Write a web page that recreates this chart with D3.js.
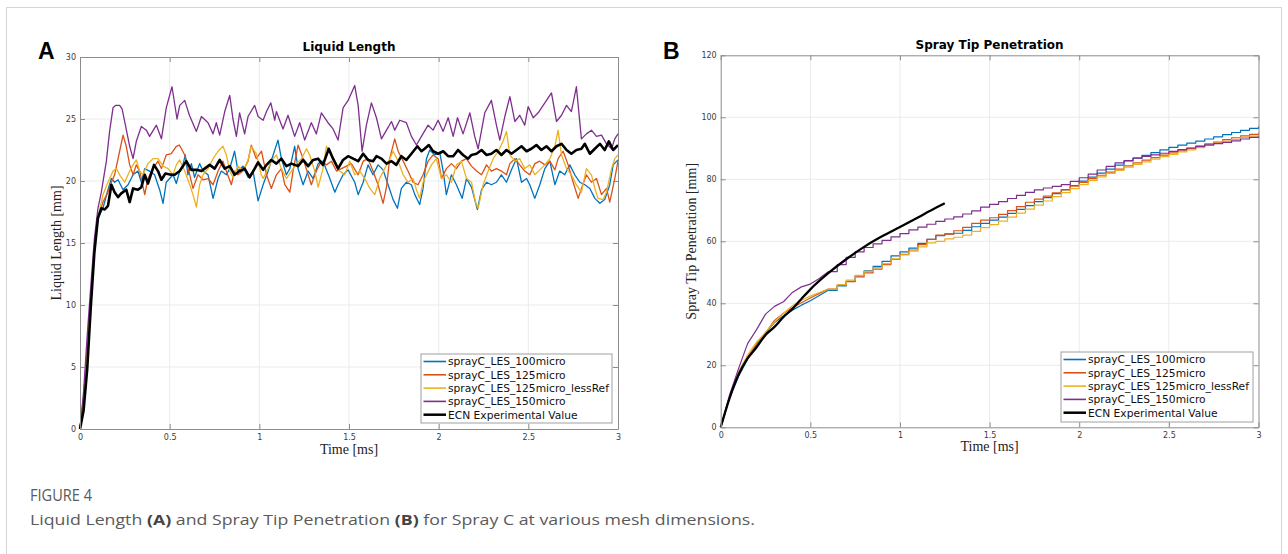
<!DOCTYPE html>
<html>
<head>
<meta charset="utf-8">
<script src="https://cdn.jsdelivr.net/npm/d3@7"></script>
<style>
  body { margin: 0; background: #fff; }
</style>
</head>
<body>
<div id="fig"></div>
<script>
    // legend labels + matlab colour order
    var seriesNames = ["sprayC_LES_100micro", "sprayC_LES_125micro", "sprayC_LES_125micro_lessRef", "sprayC_LES_150micro", "ECN Experimental Value"];
    var seriesColors = ["#0072BD", "#D95319", "#EDB120", "#7E2F8E", "#000000"];

    var timeTicks = [0, 0.5, 1, 1.5, 2, 2.5, 3];
    var lengthTicks = [0, 5, 10, 15, 20, 25, 30];
    var penTicks = [0, 20, 40, 60, 80, 100, 120];

    // ---- panel A : liquid length [mm] vs time [ms], pairs [t, v]
    var ll100 = [[0,0],[0.02,2.5],[0.04,6.5],[0.06,10.5],[0.08,14.5],[0.1,17],[0.128,17.8],[0.156,19.3],[0.175,20.2],[0.193,19.9],[0.212,20.1],[0.24,19.3],[0.268,19.7],[0.296,20.5],[0.323,20.8],[0.342,19.9],[0.361,21.0],[0.388,20.8],[0.416,20.5],[0.444,19.3],[0.463,18.2],[0.481,19.9],[0.5,20.2],[0.519,20.5],[0.537,19.8],[0.556,20.8],[0.574,21.3],[0.587,22.1],[0.602,20.5],[0.621,21.4],[0.639,20.3],[0.667,21.4],[0.686,20.8],[0.714,20.5],[0.742,18.6],[0.77,20.2],[0.788,20.8],[0.816,20.5],[0.835,21.0],[0.862,22.4],[0.881,20.8],[0.909,21.2],[0.937,20.3],[0.965,20.8],[0.993,18.4],[1.021,19.7],[1.049,20.8],[1.077,22.1],[1.104,23.3],[1.123,21.8],[1.151,20.5],[1.17,21.0],[1.197,22.8],[1.216,21.0],[1.244,19.7],[1.272,20.8],[1.3,20.2],[1.328,21.4],[1.355,21.6],[1.393,20.2],[1.421,19.1],[1.439,19.7],[1.467,20.5],[1.495,20.9],[1.532,19.9],[1.551,18.9],[1.579,19.9],[1.606,21.3],[1.634,20.5],[1.662,21.3],[1.69,20.9],[1.718,19.7],[1.746,18.5],[1.77,17.8],[1.792,19.4],[1.82,19.9],[1.848,19.7],[1.867,18.9],[1.894,18.1],[1.913,19.4],[1.932,21.8],[1.95,22.5],[1.978,22.1],[2.006,22.3],[2.025,20.8],[2.043,18.9],[2.071,20.5],[2.099,19.7],[2.131,18.6],[2.155,20.2],[2.183,19.5],[2.216,17.7],[2.239,19.3],[2.267,19.9],[2.294,19.7],[2.322,19.9],[2.35,20.5],[2.378,19.9],[2.406,20.9],[2.434,21.8],[2.462,19.9],[2.49,20.2],[2.508,19.7],[2.536,18.6],[2.564,19.7],[2.592,21.0],[2.62,21.6],[2.648,19.7],[2.675,20.8],[2.703,20.5],[2.731,21.3],[2.759,20.5],[2.787,19.9],[2.815,19.7],[2.843,19.4],[2.871,18.6],[2.899,18.2],[2.926,18.5],[2.954,19.7],[2.973,21.3],[3.0,21.7]];
    var ll125 = [[0,0],[0.02,2.5],[0.04,6.5],[0.06,10.5],[0.08,14.5],[0.1,17],[0.128,18.3],[0.156,19.1],[0.175,19.9],[0.193,20.5],[0.221,22.4],[0.24,23.7],[0.258,22.8],[0.277,21.3],[0.296,20.5],[0.314,21.3],[0.333,20.8],[0.361,18.9],[0.379,20.2],[0.407,21.0],[0.435,21.6],[0.454,21.0],[0.481,22.1],[0.509,22.2],[0.537,22.8],[0.554,22.9],[0.584,22.1],[0.612,20.5],[0.63,19.4],[0.658,20.5],[0.686,20.1],[0.714,20.2],[0.742,19.7],[0.77,20.8],[0.797,21.6],[0.816,20.8],[0.844,19.7],[0.862,20.8],[0.881,20.5],[0.909,20.8],[0.937,21.6],[0.955,22.9],[0.983,21.8],[1.012,22.4],[1.04,20.5],[1.067,19.4],[1.095,20.5],[1.123,21.0],[1.142,19.7],[1.17,19.1],[1.188,20.8],[1.216,22.9],[1.244,21.8],[1.272,20.5],[1.29,19.7],[1.318,20.8],[1.346,21.6],[1.374,21.3],[1.402,21.6],[1.43,20.8],[1.458,21.0],[1.486,21.2],[1.513,21.4],[1.551,20.5],[1.579,21.6],[1.606,21.8],[1.634,20.8],[1.662,19.7],[1.69,18.2],[1.709,19.5],[1.727,21.8],[1.755,23.4],[1.774,22.4],[1.802,21.6],[1.829,20.8],[1.857,19.9],[1.885,19.7],[1.913,20.5],[1.941,21.6],[1.969,22.1],[1.997,21.8],[2.016,20.2],[2.043,21.0],[2.071,21.4],[2.099,21.0],[2.127,21.6],[2.155,21.8],[2.183,21.2],[2.211,20.8],[2.239,20.5],[2.267,21.3],[2.294,20.8],[2.322,21.0],[2.35,20.8],[2.378,20.5],[2.397,21.4],[2.425,21.8],[2.452,21.3],[2.48,20.8],[2.508,20.5],[2.536,21.4],[2.564,21.6],[2.592,21.3],[2.62,21.6],[2.648,20.9],[2.666,21.8],[2.694,22.4],[2.722,21.3],[2.75,19.9],[2.778,18.6],[2.796,19.4],[2.824,20.5],[2.852,19.9],[2.88,20.2],[2.908,18.9],[2.936,19.4],[2.954,18.3],[2.982,20.2],[3.0,21.6]];
    var ll125less = [[0,0],[0.02,2.5],[0.04,6.5],[0.06,10.5],[0.08,14.5],[0.1,17],[0.128,18.9],[0.156,19.9],[0.184,20.8],[0.203,21.0],[0.221,20.5],[0.249,19.9],[0.277,20.8],[0.296,21.3],[0.314,21.7],[0.333,20.8],[0.351,20.5],[0.379,21.4],[0.407,21.8],[0.435,21.8],[0.463,21.2],[0.491,21.0],[0.519,20.5],[0.537,21.3],[0.556,21.7],[0.584,20.8],[0.612,19.7],[0.63,18.9],[0.649,17.9],[0.667,19.7],[0.686,20.5],[0.714,21.0],[0.742,21.8],[0.77,22.4],[0.797,22.8],[0.816,22.1],[0.835,20.8],[0.853,20.3],[0.881,21.2],[0.909,20.8],[0.937,21.7],[0.955,22.8],[0.983,22.2],[1.011,20.5],[1.021,20.2],[1.049,21.0],[1.067,21.6],[1.095,22.1],[1.123,21.0],[1.151,20.2],[1.179,20.8],[1.207,21.4],[1.235,21.8],[1.263,22.6],[1.281,22.1],[1.309,20.8],[1.328,19.5],[1.355,21.0],[1.374,22.8],[1.393,22.4],[1.421,21.6],[1.448,20.8],[1.476,20.5],[1.504,21.6],[1.532,20.5],[1.56,20.8],[1.588,20.2],[1.616,19.4],[1.644,18.9],[1.671,20.2],[1.699,21.0],[1.727,21.8],[1.746,22.4],[1.774,21.6],[1.802,20.5],[1.829,19.9],[1.857,20.2],[1.876,19.3],[1.894,18.6],[1.913,19.9],[1.932,20.5],[1.96,21.3],[1.987,21.8],[2.016,20.2],[2.043,20.5],[2.071,19.9],[2.099,21.3],[2.127,21.6],[2.155,20.2],[2.183,19.9],[2.205,18.3],[2.22,17.8],[2.248,19.7],[2.276,20.8],[2.304,21.8],[2.332,22.4],[2.359,23.2],[2.378,24.0],[2.397,22.1],[2.425,21.6],[2.452,21.8],[2.48,21.0],[2.508,21.3],[2.536,20.5],[2.564,20.9],[2.592,21.3],[2.62,21.8],[2.648,22.8],[2.666,24.1],[2.685,22.1],[2.713,21.0],[2.74,20.5],[2.768,19.7],[2.796,19.1],[2.824,21.0],[2.852,20.5],[2.871,19.4],[2.889,18.6],[2.917,18.5],[2.936,19.1],[2.964,21.0],[2.982,21.8],[3.0,22.1]];
    var ll150 = [[0,0],[0.02,3],[0.04,7.5],[0.06,11.5],[0.08,15.3],[0.1,17.8],[0.119,19.1],[0.147,21.6],[0.165,24.0],[0.184,25.9],[0.2,26.1],[0.221,26.1],[0.235,25.8],[0.249,24.8],[0.277,22.8],[0.296,21.8],[0.314,23.2],[0.342,24.4],[0.37,24.1],[0.388,23.6],[0.426,24.5],[0.454,23.4],[0.481,25.9],[0.513,27.6],[0.541,25.0],[0.556,26.1],[0.584,26.5],[0.61,25.3],[0.649,24.0],[0.677,25.2],[0.714,24.7],[0.742,23.8],[0.76,24.7],[0.779,23.7],[0.807,25.6],[0.835,26.9],[0.853,25.0],[0.872,23.6],[0.89,25.5],[0.918,23.8],[0.937,25.2],[0.974,26.1],[0.993,25.2],[1.021,24.9],[1.04,25.6],[1.064,26.3],[1.086,24.9],[1.095,25.6],[1.132,24.2],[1.16,25.3],[1.197,23.6],[1.225,24.7],[1.253,23.3],[1.29,24.7],[1.318,23.8],[1.346,25.5],[1.383,24.7],[1.411,24.2],[1.439,23.3],[1.467,25.9],[1.495,26.5],[1.532,27.7],[1.551,26.1],[1.573,22.4],[1.597,24.5],[1.625,26.3],[1.653,25.1],[1.681,23.4],[1.709,24.1],[1.737,24.8],[1.755,24.1],[1.783,24.9],[1.82,24.7],[1.848,23.6],[1.876,22.9],[1.904,23.6],[1.941,24.5],[1.969,24.1],[1.997,24.9],[2.025,24.0],[2.053,25.1],[2.081,23.6],[2.105,25.1],[2.136,23.8],[2.174,25.5],[2.201,23.6],[2.22,22.6],[2.257,25.5],[2.294,26.5],[2.322,24.5],[2.341,23.3],[2.369,25.2],[2.397,26.8],[2.425,24.8],[2.452,25.3],[2.48,24.5],[2.499,26.0],[2.527,25.1],[2.555,25.5],[2.592,26.3],[2.629,27.1],[2.657,24.8],[2.685,25.3],[2.713,26.1],[2.74,25.6],[2.768,27.6],[2.796,23.4],[2.824,23.8],[2.852,24.1],[2.88,23.6],[2.908,23.7],[2.936,23.0],[2.964,22.6],[2.982,23.4],[3.0,23.8]];
    var llECN = [[0,0],[0.02,1.5],[0.04,4.8],[0.06,9.8],[0.08,14.2],[0.1,17.0],[0.119,17.8],[0.138,17.7],[0.156,18.0],[0.175,19.7],[0.193,19.1],[0.212,18.7],[0.23,19.0],[0.258,19.3],[0.277,18.3],[0.296,19.4],[0.323,19.3],[0.342,19.5],[0.361,20.5],[0.379,19.8],[0.413,21.3],[0.435,20.8],[0.454,20.1],[0.476,20.6],[0.509,20.5],[0.528,20.5],[0.556,20.8],[0.574,21.2],[0.593,21.6],[0.621,20.9],[0.649,20.9],[0.677,20.8],[0.695,21.0],[0.723,21.3],[0.751,21.0],[0.779,21.7],[0.807,21.0],[0.835,21.2],[0.862,20.5],[0.89,20.8],[0.918,21.0],[0.946,20.3],[0.974,21.0],[0.993,21.5],[1.021,20.9],[1.04,21.3],[1.067,21.7],[1.095,21.4],[1.123,21.8],[1.151,21.2],[1.179,21.4],[1.216,21.2],[1.244,21.7],[1.272,21.2],[1.3,21.7],[1.328,21.8],[1.355,21.3],[1.387,22.6],[1.411,21.8],[1.439,21.0],[1.467,21.7],[1.495,22.0],[1.523,21.8],[1.551,21.6],[1.579,22.2],[1.606,21.7],[1.634,21.6],[1.653,22.0],[1.681,21.8],[1.709,21.4],[1.737,21.6],[1.764,21.3],[1.792,22.0],[1.82,21.7],[1.848,22.2],[1.881,22.8],[1.904,22.4],[1.922,22.6],[1.945,22.9],[1.969,22.4],[1.997,22.2],[2.025,22.4],[2.053,22.0],[2.081,22.0],[2.108,22.5],[2.136,22.1],[2.164,21.8],[2.183,22.1],[2.211,22.2],[2.239,22.5],[2.267,22.1],[2.294,22.2],[2.322,22.5],[2.35,22.1],[2.378,22.5],[2.406,22.2],[2.434,22.5],[2.462,22.8],[2.49,22.4],[2.517,22.6],[2.545,22.9],[2.573,22.5],[2.601,22.8],[2.629,22.4],[2.657,22.8],[2.685,23.0],[2.713,22.5],[2.74,22.2],[2.768,22.5],[2.796,22.6],[2.815,23.0],[2.843,22.2],[2.871,22.6],[2.899,23.0],[2.926,22.5],[2.949,23.2],[2.973,22.5],[3.0,22.9]];

    // ---- panel B : spray tip penetration [mm], sampled every 0.05 ms (stair output)
    var timeB = [0,0.05,0.1,0.15,0.2,0.25,0.3,0.35,0.4,0.45,0.5,0.55,0.6,0.65,0.7,0.75,0.8,0.85,0.9,0.95,1,1.05,1.1,1.15,1.2,1.25,1.3,1.35,1.4,1.45,1.5,1.55,1.6,1.65,1.7,1.75,1.8,1.85,1.9,1.95,2,2.05,2.1,2.15,2.2,2.25,2.3,2.35,2.4,2.45,2.5,2.55,2.6,2.65,2.7,2.75,2.8,2.85,2.9,2.95,3];
    var stp100 = [0,9.5,16.5,22,26.5,30.5,33.8,36.0,37.8,39.4,40.8,42.5,44.2,45.6,47.1,48.9,50.5,51.9,53.5,55.3,56.6,57.8,59.3,60.6,61.8,62.4,62.6,63.5,64.7,65.8,66.8,67.8,69.0,70.3,71.5,72.8,74.1,75.4,76.7,78.0,79.4,80.7,82.0,83.3,84.6,85.9,86.8,87.7,88.6,89.5,90.3,91.0,91.7,92.3,93.0,93.7,94.4,95.1,95.8,96.4,97.0];
    var stp125 = [0,10,17.5,22.8,27.0,30.5,34.5,36.8,38.6,40.2,41.7,43.2,44.6,45.8,47.0,48.5,49.8,51.0,52.5,54.2,55.8,57.2,58.9,60.6,62.0,62.3,63.4,64.5,65.8,66.8,67.6,68.7,69.9,71.2,72.6,73.6,74.6,75.6,76.6,77.8,79.0,80.2,81.3,82.3,83.3,84.3,85.3,86.2,87.0,87.8,88.5,89.2,90.0,90.7,91.4,92.0,92.8,93.4,94.0,94.5,95.0];
    var stp125less = [0,10,18,23.3,27.5,30.6,34.0,36.8,39.2,41.0,42.3,43.5,44.6,46.0,47.5,49.0,50.3,51.5,52.8,54.3,55.6,56.8,58.2,59.5,60.0,60.8,61.3,62.0,63.2,64.4,65.4,66.5,67.8,69.1,70.4,71.7,73.0,74.4,75.7,77.0,78.3,79.6,80.8,81.9,82.9,83.9,84.8,85.6,86.5,87.3,88.0,88.8,89.5,90.2,90.9,91.6,92.3,92.9,93.5,93.9,94.3];
    var stp150 = [0,10.5,19,27,31.5,36.5,39,40.5,43.5,45.3,46.2,48.0,50.2,52.5,54.8,56.6,58.0,59.2,60.3,61.4,62.5,63.7,64.6,65.5,66.4,67.2,67.9,68.8,69.8,71.0,71.9,72.8,73.8,74.8,75.8,76.6,77.2,77.7,78.3,79.3,80.5,81.7,83.0,84.2,85.3,86.0,86.8,87.4,87.9,88.4,89.0,89.6,90.1,90.6,91.1,91.5,91.9,92.4,93.0,93.5,94.0];
    var stpECN = [[0,0],[0.05,9.5],[0.1,17],[0.15,22.2],[0.2,25.8],[0.25,29.8],[0.3,32.4],[0.35,35.6],[0.4,38.2],[0.45,41.4],[0.5,44.5],[0.6,49.7],[0.7,54.2],[0.8,58.2],[0.9,61.6],[1.0,64.6],[1.1,67.7],[1.2,70.8],[1.25,72.3]];

    var W = 1288, H = 554;
    var svg = d3.select("#fig").append("svg")
        .attr("width", W)
        .attr("height", H)
        .style("font-family", "'DejaVu Sans', sans-serif");

    // outer figure frame
    svg.append("rect")
        .attr("x", 6.5).attr("y", 7.5)
        .attr("width", 1275).attr("height", 600)
        .attr("fill", "none")
        .attr("stroke", "#d4d4d4");

    var tickFmt = d3.format("~g");

    function drawPanel(o) {
        var x = d3.scaleLinear().domain([0, 3]).range([o.left, o.right]);
        var y = d3.scaleLinear().domain([o.yTicks[0], o.yTicks[o.yTicks.length - 1]]).range([o.bottom, o.top]);
        var g = svg.append("g");

        // grid
        g.selectAll(".gx").data(timeTicks.slice(1, -1)).enter().append("line")
            .attr("x1", d => x(d)).attr("x2", d => x(d))
            .attr("y1", o.top).attr("y2", o.bottom)
            .attr("stroke", "#ebebeb").attr("stroke-width", 1);
        g.selectAll(".gy").data(o.yTicks.slice(1, -1)).enter().append("line")
            .attr("y1", d => y(d)).attr("y2", d => y(d))
            .attr("x1", o.left).attr("x2", o.right)
            .attr("stroke", "#ebebeb").attr("stroke-width", 1);

        // series
        o.series.forEach(function(s) {
            s.parts.forEach(function(p) {
                g.append("path")
                    .datum(p.pts)
                    .attr("fill", "none")
                    .attr("stroke", s.color)
                    .attr("stroke-width", s.width)
                    .attr("stroke-linejoin", "round")
                    .attr("d", d3.line().curve(p.curve).x(d => x(d[0])).y(d => y(d[1])));
            });
        });

        // axes, matlab style: ticks inward, box all round
        var axes = [
            {ax: d3.axisBottom(x).tickValues(timeTicks).tickFormat(tickFmt).tickPadding(5), t: "translate(0," + o.bottom + ")"},
            {ax: d3.axisTop(x).tickValues(timeTicks).tickFormat(""), t: "translate(0," + o.top + ")"},
            {ax: d3.axisLeft(y).tickValues(o.yTicks).tickFormat(tickFmt).tickPadding(4), t: "translate(" + o.left + ",0)"},
            {ax: d3.axisRight(y).tickValues(o.yTicks).tickFormat(""), t: "translate(" + o.right + ",0)"}
        ];
        axes.forEach(function(a) {
            var ag = g.append("g").attr("transform", a.t)
                .call(a.ax.tickSizeInner(-5).tickSizeOuter(0));
            ag.selectAll("path, line").attr("stroke", "#8c8c8c");
            ag.selectAll("text").attr("fill", "#3c3c3c").style("font-size", "8px").style("font-family", "'DejaVu Sans', sans-serif");
        });

        // titles
        g.append("text")
            .attr("x", (o.left + o.right) / 2).attr("y", o.titleY)
            .attr("text-anchor", "middle")
            .style("font-size", "12px").style("font-weight", "bold")
            .text(o.title);
        g.append("text")
            .attr("x", o.letterX).attr("y", 59)
            .style("font-family", "'Liberation Sans', Arial, sans-serif")
            .style("font-size", "23px").style("font-weight", "bold")
            .text(o.letter);
        g.append("text")
            .attr("x", (o.left + o.right) / 2).attr("y", o.xLabelY)
            .attr("text-anchor", "middle")
            .style("font-family", "'Liberation Serif', serif").style("font-size", "14px")
            .attr("fill", "#222")
            .text("Time [ms]");
        g.append("text")
            .attr("transform", "translate(" + o.yLabelX + "," + (o.top + o.bottom) / 2 + ") rotate(-90)")
            .attr("text-anchor", "middle")
            .style("font-family", "'Liberation Serif', serif").style("font-size", "14px")
            .attr("fill", "#222")
            .text(o.yLabel);

        // legend
        var lg = g.append("g");
        lg.append("rect")
            .attr("x", o.leg.x).attr("y", o.leg.y)
            .attr("width", o.leg.w).attr("height", o.leg.h)
            .attr("fill", "#fff").attr("stroke", "#a0a0a0");
        var rows = lg.selectAll(".row").data(seriesNames).enter().append("g")
            .attr("transform", (d, i) => "translate(" + o.leg.x + "," + (o.leg.y + 7.5 + i * 13.3) + ")");
        rows.append("line")
            .attr("x1", 2.5).attr("x2", 25)
            .attr("stroke", (d, i) => seriesColors[i])
            .attr("stroke-width", (d, i) => i == 4 ? 2.5 : 1.6);
        rows.append("text")
            .attr("x", 27).attr("dy", "0.36em")
            .style("font-size", "10.7px").attr("fill", "#111")
            .text(d => d);
    }

    var stairs = function(vals) {
        var pts = timeB.map((t, i) => [t, vals[i]]);
        var cut = timeB.indexOf(0.6);
        return [
            {pts: pts.slice(0, cut + 1), curve: d3.curveLinear},
            {pts: pts.slice(cut), curve: d3.curveStepAfter}
        ];
    };

    drawPanel({
        left: 80, right: 618, top: 57, bottom: 429,
        yTicks: lengthTicks,
        title: "Liquid Length", titleY: 51, letter: "A", letterX: 38,
        xLabelY: 454, yLabelX: 61, yLabel: "Liquid Length [mm]",
        leg: {x: 421, y: 354, w: 191, h: 69},
        series: [
            {color: seriesColors[0], width: 1.3, parts: [{pts: ll100, curve: d3.curveLinear}]},
            {color: seriesColors[1], width: 1.3, parts: [{pts: ll125, curve: d3.curveLinear}]},
            {color: seriesColors[2], width: 1.3, parts: [{pts: ll125less, curve: d3.curveLinear}]},
            {color: seriesColors[3], width: 1.3, parts: [{pts: ll150, curve: d3.curveLinear}]},
            {color: seriesColors[4], width: 2.6, parts: [{pts: llECN, curve: d3.curveLinear}]}
        ]
    });

    drawPanel({
        left: 720.7, right: 1258.5, top: 55.3, bottom: 427.3,
        yTicks: penTicks,
        title: "Spray Tip Penetration", titleY: 49, letter: "B", letterX: 663,
        xLabelY: 451, yLabelX: 696, yLabel: "Spray Tip Penetration [mm]",
        leg: {x: 1061, y: 352, w: 192, h: 70},
        series: [
            {color: seriesColors[0], width: 1.2, parts: stairs(stp100)},
            {color: seriesColors[1], width: 1.2, parts: stairs(stp125)},
            {color: seriesColors[2], width: 1.2, parts: stairs(stp125less)},
            {color: seriesColors[3], width: 1.2, parts: stairs(stp150)},
            {color: seriesColors[4], width: 2.3, parts: [{pts: stpECN, curve: d3.curveMonotoneX}]}
        ]
    });

    // caption
    svg.append("text")
        .attr("x", 30).attr("y", 501)
        .attr("textLength", 62).attr("lengthAdjust", "spacingAndGlyphs")
        .style("font-family", "'Open Sans', sans-serif")
        .style("font-size", "17px").attr("fill", "#5a5a5a")
        .text("FIGURE 4");
    var cap = svg.append("text")
        .attr("x", 30).attr("y", 525)
        .attr("textLength", 725).attr("lengthAdjust", "spacingAndGlyphs")
        .style("font-family", "'Open Sans', sans-serif")
        .style("font-size", "15px").attr("fill", "#5a5a5a");
    cap.append("tspan").text("Liquid Length ");
    cap.append("tspan").style("font-weight", "bold").attr("fill", "#444").text("(A)");
    cap.append("tspan").text(" and Spray Tip Penetration ");
    cap.append("tspan").style("font-weight", "bold").attr("fill", "#444").text("(B)");
    cap.append("tspan").text(" for Spray C at various mesh dimensions.");
</script>
</body>
</html>
